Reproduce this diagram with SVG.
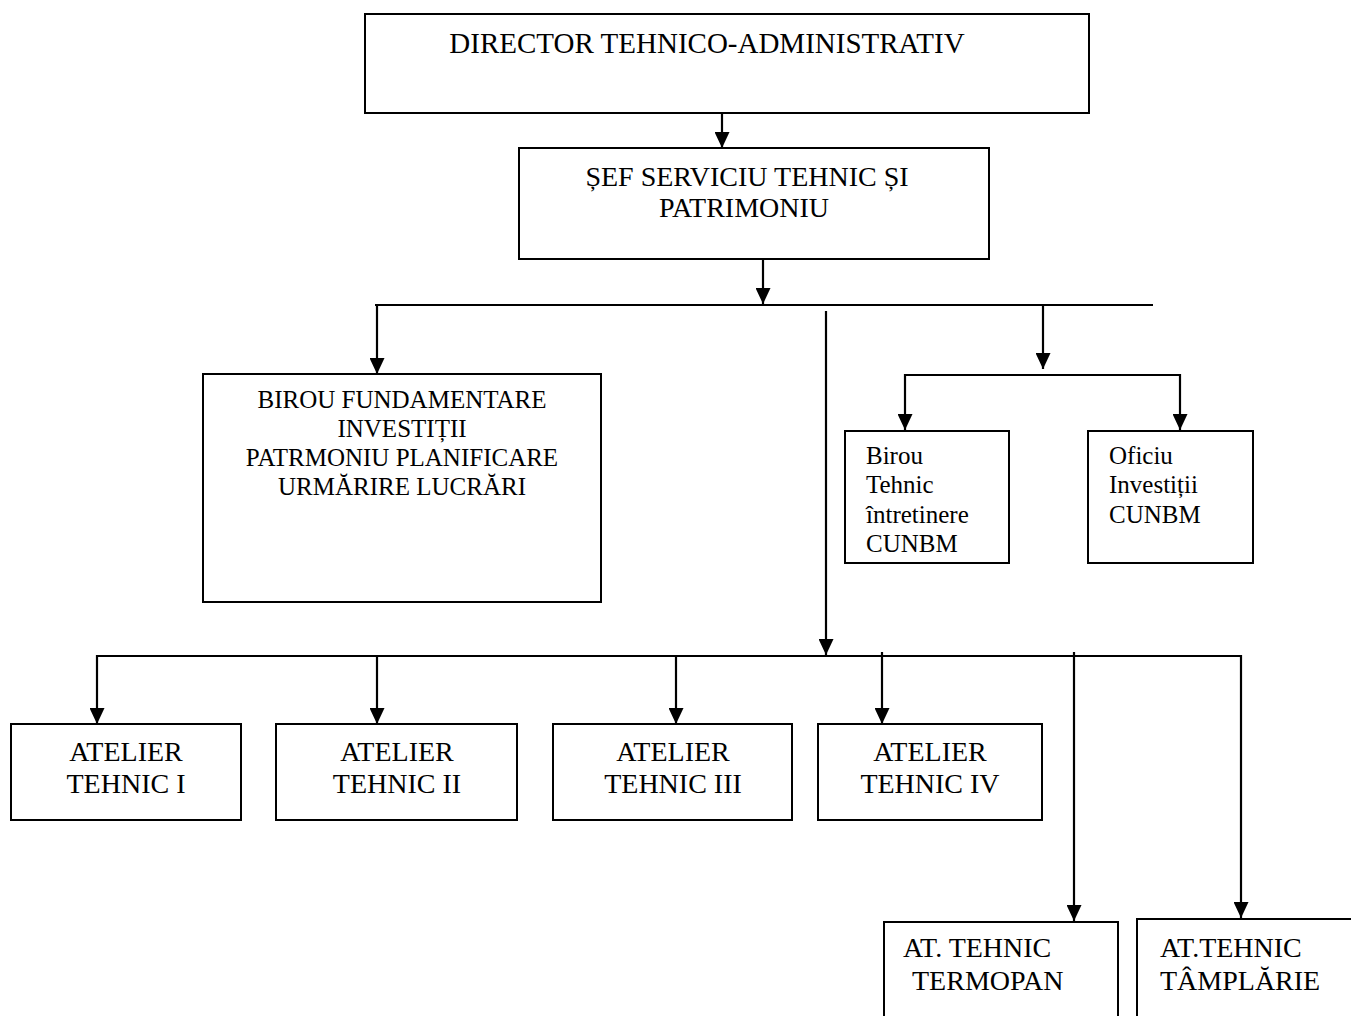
<svg xmlns="http://www.w3.org/2000/svg" width="1351" height="1016" viewBox="0 0 1351 1016">
<defs>
<marker id="arr" markerUnits="userSpaceOnUse" markerWidth="17" markerHeight="15" refX="16" refY="7.5" orient="auto" viewBox="0 0 17 15">
<path d="M0,0 L16,7.5 L0,15 z" fill="#000"/>
</marker>
<style>
.box{fill:#fff;stroke:#000;stroke-width:2}
.c{stroke:#000;stroke-width:2.2;fill:none}
.a{stroke:#000;stroke-width:2.2;fill:none;marker-end:url(#arr)}
text{font-family:"Liberation Serif","Times New Roman",serif;fill:#000}
.big{font-size:28px}
.dir{font-size:29px}
.mid{font-size:25px}
.m{text-anchor:middle}
</style>
</defs>
<rect width="1351" height="1016" fill="#fff"/>
<g id="connectors">
<line class="a" x1="722" y1="113" x2="722" y2="148"/>
<line class="a" x1="763" y1="259" x2="763" y2="304"/>
<line class="c" x1="375" y1="305" x2="1153" y2="305"/>
<line class="a" x1="377" y1="305" x2="377" y2="374"/>
<line class="a" x1="826" y1="311" x2="826" y2="655"/>
<line class="a" x1="1043" y1="305" x2="1043" y2="369"/>
<line class="c" x1="905" y1="375" x2="1180" y2="375"/>
<line class="a" x1="905" y1="374" x2="905" y2="430"/>
<line class="a" x1="1180" y1="374" x2="1180" y2="430"/>
<line class="c" x1="97" y1="656" x2="1241" y2="656"/>
<line class="a" x1="97" y1="655" x2="97" y2="724"/>
<line class="a" x1="377" y1="655" x2="377" y2="724"/>
<line class="a" x1="676" y1="655" x2="676" y2="724"/>
<line class="a" x1="882" y1="652" x2="882" y2="724"/>
<line class="a" x1="1074" y1="652" x2="1074" y2="921"/>
<line class="a" x1="1241" y1="655" x2="1241" y2="918"/>
</g>
<g id="director">
<rect class="box" x="365" y="14" width="724" height="99"/>
<text class="dir m" x="707" y="53">DIRECTOR TEHNICO-ADMINISTRATIV</text>
</g>
<g id="sef">
<rect class="box" x="519" y="148" width="470" height="111"/>
<text class="big m" x="747" y="186">ȘEF SERVICIU TEHNIC ȘI</text>
<text class="big m" x="744" y="217">PATRIMONIU</text>
</g>
<g id="birou-fundamentare">
<rect class="box" x="203" y="374" width="398" height="228"/>
<text class="mid m" x="402" y="408">BIROU FUNDAMENTARE</text>
<text class="mid m" x="402" y="437">INVESTIȚII</text>
<text class="mid m" x="402" y="466">PATRMONIU PLANIFICARE</text>
<text class="mid m" x="402" y="495">URMĂRIRE LUCRĂRI</text>
</g>
<g id="birou-tehnic">
<rect class="box" x="845" y="431" width="164" height="132"/>
<text class="mid" x="866" y="464">Birou</text>
<text class="mid" x="866" y="493">Tehnic</text>
<text class="mid" x="866" y="523">întretinere</text>
<text class="mid" x="866" y="552">CUNBM</text>
</g>
<g id="oficiu">
<rect class="box" x="1088" y="431" width="165" height="132"/>
<text class="mid" x="1109" y="464">Oficiu</text>
<text class="mid" x="1109" y="493">Investiții</text>
<text class="mid" x="1109" y="523">CUNBM</text>
</g>
<g id="atelier1">
<rect class="box" x="11" y="724" width="230" height="96"/>
<text class="big m" x="126" y="761">ATELIER</text>
<text class="big m" x="126" y="793">TEHNIC I</text>
</g>
<g id="atelier2">
<rect class="box" x="276" y="724" width="241" height="96"/>
<text class="big m" x="397" y="761">ATELIER</text>
<text class="big m" x="397" y="793">TEHNIC II</text>
</g>
<g id="atelier3">
<rect class="box" x="553" y="724" width="239" height="96"/>
<text class="big m" x="673" y="761">ATELIER</text>
<text class="big m" x="673" y="793">TEHNIC III</text>
</g>
<g id="atelier4">
<rect class="box" x="818" y="724" width="224" height="96"/>
<text class="big m" x="930" y="761">ATELIER</text>
<text class="big m" x="930" y="793">TEHNIC IV</text>
</g>
<g id="termopan">
<rect class="box" x="884" y="922" width="234" height="110"/>
<text class="big" x="903" y="957">AT. TEHNIC</text>
<text class="big" x="912" y="990">TERMOPAN</text>
</g>
<g id="tamplarie">
<rect class="box" x="1137" y="919" width="230" height="110"/>
<text class="big" x="1160" y="957">AT.TEHNIC</text>
<text class="big" x="1160" y="990">TÂMPLĂRIE</text>
</g>
</svg>
